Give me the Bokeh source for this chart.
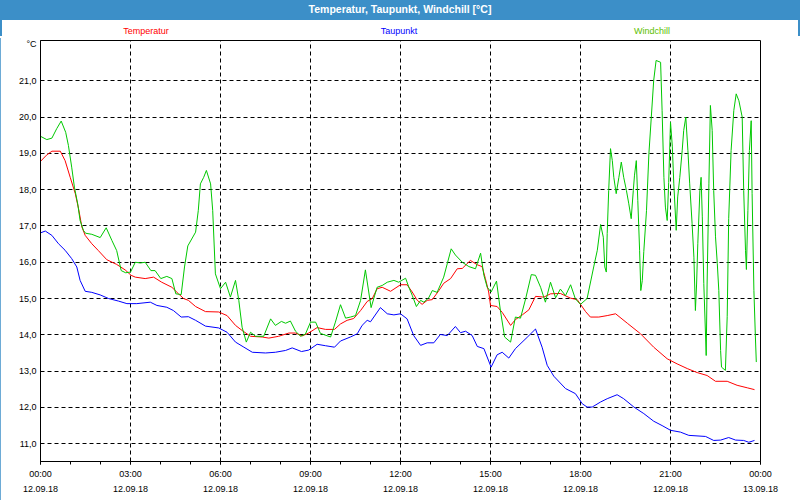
from bokeh.plotting import figure
from bokeh.models import Range1d, FixedTicker, LinearAxis, Div
from bokeh.layouts import column
from bokeh.embed import file_html
from bokeh.resources import INLINE

# ---------------- data (hours since 12.09.18 00:00, °C) ----------------
t_temp = [0.0, 0.2, 0.38, 0.66, 0.82, 0.99, 1.16, 1.27, 1.38, 1.49, 1.71, 1.93, 2.21, 2.54, 2.82,
          3.02, 3.16, 3.49, 3.77, 4.04, 4.38, 4.6, 4.77, 4.93, 5.17, 5.5, 5.94, 6.22, 6.5, 6.72,
          7.0, 7.39, 7.61, 7.94, 8.28, 8.5, 8.72, 8.94, 9.22, 9.5, 9.8, 10.0, 10.22, 10.44, 10.67,
          10.89, 11.06, 11.22, 11.39, 11.67, 12.0, 12.22, 12.39, 12.56, 12.72, 12.89, 13.06, 13.28,
          13.44, 13.67, 13.89, 14.06, 14.33, 14.56, 14.72, 14.83, 14.94, 15.0, 15.22, 15.39, 15.67,
          15.83, 16.06, 16.28, 16.5, 16.78, 17.0, 17.33, 17.67, 17.89, 18.0, 18.17, 18.33, 18.61,
          18.89, 19.17, 19.56, 20.0, 20.44, 20.89, 21.22, 21.56, 21.89, 22.22, 22.5, 22.89, 23.22,
          23.56, 23.8]
temperatur = [18.78, 18.95, 19.06, 19.06, 18.80, 18.34, 17.89, 17.47, 16.97, 16.74, 16.51, 16.32,
              16.07, 15.94, 15.79, 15.64, 15.59, 15.55, 15.59, 15.45, 15.31, 15.13, 15.0, 14.95,
              14.78, 14.64, 14.63, 14.53, 14.26, 14.12, 13.96, 13.94, 13.91, 13.96, 14.05, 14.05,
              13.97, 14.05, 14.2, 14.15, 14.15, 14.3, 14.4, 14.45, 14.67, 14.92, 15.0, 15.27, 15.31,
              15.2, 15.38, 15.38, 15.18, 14.95, 14.84, 14.95, 14.97, 15.22, 15.42, 15.55, 15.82,
              15.83, 16.05, 15.93, 15.88, 15.55, 15.18, 14.81, 14.78, 14.62, 14.26, 14.42, 14.55,
              14.69, 15.06, 15.04, 15.13, 15.14, 15.01, 14.97, 14.84, 14.64, 14.49, 14.49, 14.53,
              14.58, 14.32, 14.03, 13.66, 13.34, 13.2, 13.07, 12.96, 12.88, 12.72, 12.72, 12.61,
              12.54, 12.49]

t_tau = [0.0, 0.16, 0.38, 0.6, 0.82, 1.04, 1.21, 1.32, 1.49, 1.71, 1.99, 2.27, 2.6, 2.88, 3.21,
         3.66, 3.88, 4.21, 4.43, 4.69, 4.93, 5.17, 5.5, 5.94, 6.22, 6.5, 6.78, 7.06, 7.5, 7.83,
         8.17, 8.39, 8.7, 8.94, 9.22, 9.5, 9.8, 10.0, 10.33, 10.56, 10.72, 10.89, 11.0, 11.33,
         11.56, 11.78, 12.0, 12.22, 12.44, 12.67, 12.89, 13.11, 13.33, 13.56, 13.83, 14.0, 14.17,
         14.39, 14.56, 14.78, 15.02, 15.22, 15.39, 15.61, 15.83, 16.22, 16.5, 16.72, 16.89, 17.11,
         17.5, 17.83, 18.06, 18.22, 18.39, 18.67, 18.89, 19.22, 19.44, 19.78, 20.11, 20.44, 20.72,
         21.0, 21.33, 21.61, 22.17, 22.44, 22.67, 22.94, 23.17, 23.44, 23.61, 23.8]
taupunkt = [16.81, 16.86, 16.74, 16.51, 16.33, 16.1, 15.87, 15.5, 15.2, 15.17, 15.1, 15.0, 14.93,
            14.86, 14.86, 14.9, 14.81, 14.76, 14.67, 14.49, 14.5, 14.4, 14.24, 14.19, 14.07, 13.8,
            13.66, 13.52, 13.5, 13.52, 13.57, 13.64, 13.54, 13.58, 13.74, 13.7, 13.66, 13.83,
            13.94, 14.03, 14.26, 14.40, 14.36, 14.75, 14.58, 14.55, 14.58, 14.44, 13.98, 13.71,
            13.78, 13.78, 14.01, 13.98, 14.23, 14.06, 14.1, 13.98, 13.68, 13.62, 13.11, 13.45,
            13.52, 13.36, 13.62, 13.93, 14.16, 13.66, 13.16, 12.86, 12.52, 12.38, 12.1, 12.01,
            12.01, 12.15, 12.24, 12.35, 12.24, 12.01, 11.83, 11.62, 11.5, 11.37, 11.32, 11.23,
            11.2, 11.09, 11.1, 11.17, 11.1, 11.09, 11.04, 11.09]

t_wind = [0.0, 0.21, 0.38, 0.54, 0.69, 0.84, 0.93, 1.04, 1.13, 1.24, 1.32, 1.43, 1.5, 1.71, 1.99,
          2.19, 2.38, 2.54, 2.69, 2.84, 3.0, 3.16, 3.33, 3.49, 3.68, 3.82, 4.01, 4.21, 4.38, 4.51,
          4.69, 4.8, 4.91, 5.17, 5.26, 5.33, 5.44, 5.53, 5.67, 5.74, 5.83, 6.0, 6.17, 6.33, 6.5,
          6.61, 6.72, 6.86, 7.0, 7.17, 7.44, 7.67, 7.83, 8.03, 8.17, 8.33, 8.5, 8.67, 8.83, 9.0,
          9.17, 9.33, 9.67, 9.83, 10.0, 10.17, 10.33, 10.5, 10.67, 10.83, 11.02, 11.22, 11.39,
          11.56, 11.78, 11.94, 12.17, 12.28, 12.39, 12.53, 12.67, 12.78, 12.94, 13.06, 13.22,
          13.44, 13.69, 13.83, 14.06, 14.28, 14.5, 14.67, 14.78, 14.89, 15.02, 15.2, 15.33, 15.47,
          15.67, 15.83, 16.0, 16.17, 16.36, 16.5, 16.67, 16.83, 17.0, 17.17, 17.33, 17.5, 17.67,
          17.83, 18.0, 18.22, 18.44, 18.56, 18.67, 18.76, 18.81, 18.86, 18.89, 18.94, 19.0, 19.06,
          19.11, 19.19, 19.28, 19.36, 19.44, 19.53, 19.61, 19.69, 19.76, 19.8, 19.86, 19.91, 19.97,
          20.01, 20.06, 20.11, 20.2, 20.28, 20.36, 20.44, 20.52, 20.67, 20.72, 20.78, 20.83, 20.89,
          20.94, 21.0, 21.06, 21.11, 21.19, 21.24, 21.31, 21.39, 21.44, 21.51, 21.58, 21.64, 21.72,
          21.78, 21.83, 21.87, 21.91, 21.98, 22.02, 22.06, 22.11, 22.17, 22.19, 22.22, 22.28,
          22.33, 22.39, 22.44, 22.5, 22.56, 22.61, 22.67, 22.7, 22.83, 22.89, 22.94, 23.02, 23.11,
          23.19, 23.28, 23.39, 23.44, 23.5, 23.53, 23.58, 23.63, 23.69, 23.72, 23.78, 23.83, 23.86]
windchill = [19.47, 19.38, 19.42, 19.68, 19.89, 19.58, 19.22, 18.62, 18.07, 17.61, 17.15, 16.88,
             16.8, 16.77, 16.68, 16.95, 16.6, 16.32, 15.77, 15.71, 15.73, 16.0, 15.98, 16.0, 15.77,
             15.77, 15.55, 15.61, 15.55, 15.13, 15.11, 15.87, 16.45, 16.83, 17.43, 18.16, 18.34,
             18.53, 18.16, 17.43, 15.68, 15.27, 15.45, 15.04, 15.5, 14.95, 14.21, 13.8, 14.07,
             13.96, 13.96, 14.44, 14.26, 14.37, 14.32, 14.38, 14.1, 13.96, 14.02, 14.35, 14.35,
             14.04, 13.94, 14.35, 14.83, 14.46, 14.49, 14.53, 14.95, 15.79, 14.75, 15.31, 15.36,
             15.45, 15.5, 15.45, 15.56, 15.31, 15.09, 14.78, 14.95, 14.9, 15.02, 15.22, 15.17,
             15.59, 16.37, 16.2, 16.0, 15.88, 15.82, 16.25, 15.64, 15.31, 15.18, 15.48, 14.67,
             13.94, 13.8, 14.49, 14.46, 14.99, 15.66, 15.64, 15.31, 14.9, 15.45, 15.02, 15.26,
             15.08, 15.38, 14.99, 14.84, 15.0, 15.87, 16.33, 17.04, 16.69, 15.87, 15.73, 16.79,
             17.98, 19.13, 18.8, 18.34, 17.89, 18.34, 18.76, 18.34, 17.98, 17.61, 17.2, 17.98,
             18.4, 18.8, 17.7, 16.33, 15.22, 15.5, 16.3, 17.43, 18.99, 20.0, 21.01, 21.56, 21.51,
             20.18, 18.34, 17.52, 17.15, 18.2, 19.86, 19.2, 18.16, 16.88, 17.8, 18.34, 19.08,
             19.63, 20.0, 19.08, 18.16, 17.06, 16.14, 14.67, 15.4, 16.51, 17.98, 18.34, 17.25,
             15.41, 13.94, 13.43, 15.4, 18.16, 20.32, 19.63, 17.98, 16.7, 15.96, 15.22, 13.57,
             13.11, 13.02, 14.5, 17.2, 19.08, 20.18, 20.64, 20.45, 20.0, 17.98, 16.33, 15.8,
             17.43, 19.08, 19.9, 17.9, 15.22, 13.94, 13.25]

x_ticks = [0, 3, 6, 9, 12, 15, 18, 21, 24]
time_labels = ["00:00", "03:00", "06:00", "09:00", "12:00", "15:00", "18:00", "21:00", "00:00"]
date_labels = ["12.09.18"] * 8 + ["13.09.18"]
y_ticks = [11, 12, 13, 14, 15, 16, 17, 18, 19, 20, 21, 22]
y_labels = ["11,0", "12,0", "13,0", "14,0", "15,0", "16,0", "17,0", "18,0", "19,0", "20,0", "21,0", "°C"]
series_names = ["Temperatur", "Taupunkt", "Windchill"]
title_text = "Temperatur, Taupunkt, Windchill [°C]"

# ---------------- layout ----------------
TOTAL_W, TOTAL_H = 800, 500
HEAD_H = 36
W, H = TOTAL_W, TOTAL_H - HEAD_H
FL, FR, FT, FB = 40, 40, 4, 39
X0, X1 = 0.0, 24.0
Y0, Y1 = 10.51, 22.11

FONT = "Liberation Sans"
BAR = "#3c8fc8"
C_T, C_D, C_W = "#ff0000", "#0000ff", "#00c800"
LABEL_COLORS = [C_T, C_D, "#5cc000"]
LABEL_CENTERS = [144, 397, 650]

# header: title bar + series labels (with side edges of the window frame)
spans = "".join(
    f'<span style="position:absolute;top:25px;left:{cx}px;transform:translateX(-50%);'
    f'white-space:nowrap;color:{col};font:9px \'{FONT}\';line-height:12px;">{name}</span>'
    for name, col, cx in zip(series_names, LABEL_COLORS, LABEL_CENTERS))
head_html = (
    f'<div style="position:relative;width:{TOTAL_W}px;height:{HEAD_H}px;background:white;'
    f'box-sizing:border-box;border-left:2px solid {BAR};border-right:2px solid {BAR};">'
    f'<div style="position:absolute;left:-2px;top:0;width:{TOTAL_W}px;height:20px;background:{BAR};'
    f'color:white;font:bold 10.5px \'{FONT}\';text-align:center;line-height:19px;">{title_text}</div>'
    f'{spans}</div>')
head = Div(text=head_html, width=TOTAL_W, height=HEAD_H, margin=(0, 0, 0, 0))

p = figure(width=W, height=H, x_range=Range1d(X0, X1), y_range=Range1d(Y0, Y1),
           output_backend="svg", toolbar_location=None, margin=(0, 0, 0, 0),
           min_border_left=FL, min_border_right=FR, min_border_top=FT, min_border_bottom=FB,
           styles={"outline": f"2px solid {BAR}", "outline-offset": "-2px",
                   "clip-path": "inset(2px 0px 0px 0px)"})
p.background_fill_color = "white"
p.border_fill_color = "white"
p.outline_line_color = "black"
p.outline_line_width = 1
p.outline_line_alpha = 1

# x axis (times)
ax = p.xaxis[0]
ax.ticker = FixedTicker(ticks=x_ticks, minor_ticks=list(range(25)))
ax.major_label_overrides = {t: s for t, s in zip(x_ticks, time_labels)}
ax.axis_line_color = "black"
ax.major_tick_line_color = "black"
ax.minor_tick_line_color = "black"
ax.major_tick_out = 3
ax.major_tick_in = 0
ax.minor_tick_out = 3
ax.minor_tick_in = 0
ax.major_label_standoff = 4
ax.major_label_text_font = FONT
ax.major_label_text_font_size = "9px"
ax.major_label_text_color = "black"

# second x axis (dates)
ax2 = LinearAxis(ticker=FixedTicker(ticks=x_ticks, minor_ticks=[]),
                 major_label_overrides={t: s for t, s in zip(x_ticks, date_labels)})
ax2.axis_line_color = None
ax2.major_tick_line_color = None
ax2.minor_tick_line_color = None
ax2.major_tick_out = 0
ax2.major_tick_in = 0
ax2.minor_tick_out = 0
ax2.minor_tick_in = 0
ax2.major_label_standoff = 4
ax2.major_label_text_font = FONT
ax2.major_label_text_font_size = "9px"
ax2.major_label_text_color = "black"
p.add_layout(ax2, "below")

# y axis
ay = p.yaxis[0]
ay.ticker = FixedTicker(ticks=y_ticks, minor_ticks=[])
ay.major_label_overrides = {t: s for t, s in zip(y_ticks, y_labels)}
ay.axis_line_color = "black"
ay.major_tick_line_color = None
ay.minor_tick_line_color = None
ay.major_tick_out = 0
ay.major_tick_in = 0
ay.major_label_standoff = 4
ay.major_label_text_font = FONT
ay.major_label_text_font_size = "9px"
ay.major_label_text_color = "black"

# grids
p.xgrid.ticker = FixedTicker(ticks=x_ticks[1:-1], minor_ticks=[])
p.ygrid.ticker = FixedTicker(ticks=y_ticks[:-1], minor_ticks=[])
for g in (p.xgrid, p.ygrid):
    g.grid_line_color = "black"
    g.grid_line_alpha = 1
    g.grid_line_width = 1
    g.grid_line_dash = "4 3"

# series
p.line(t_temp, temperatur, line_color=C_T, line_width=1)
p.line(t_tau, taupunkt, line_color=C_D, line_width=1)
p.line(t_wind, windchill, line_color=C_W, line_width=1)

layout = column(head, p, spacing=0)
open("out.html", "w").write(file_html(layout, INLINE))
